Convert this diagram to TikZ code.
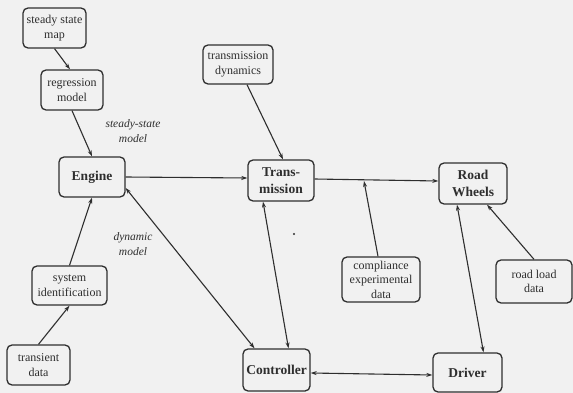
\documentclass[tikz,border=0pt]{standalone}
\usepackage{fontspec}
\setmainfont{Liberation Serif}
\usetikzlibrary{calc,arrows.meta}
\definecolor{ink}{HTML}{2E2E2E}
\definecolor{bg}{HTML}{F1F1F1}
\tikzset{
  box/.style={draw=ink, line width=1.3pt, rounded corners=5pt, align=center, inner sep=1pt,
    text=ink, font=\fontsize{12}{14.5}\selectfont},
  bigbox/.style={box, font=\bfseries\fontsize{13.5}{17}\selectfont},
  conn/.style={draw=ink, line width=1.1pt, -{Stealth[length=6pt,width=4pt]}},
  bconn/.style={draw=ink, line width=1.1pt, {Stealth[length=6pt,width=4pt]}-{Stealth[length=6pt,width=4pt]}},
  lab/.style={text=ink, font=\itshape\fontsize{11.5}{15}\selectfont, align=center}
}
\begin{document}
\begin{tikzpicture}[x=1pt,y=-1pt]
\fill[bg] (0,0) rectangle (573,393);
\useasboundingbox (0,0) rectangle (573,393);

\node[box, minimum width=63pt, minimum height=40pt] (ssm) at (54.5,28) {steady state\\map};
\node[box, minimum width=62pt, minimum height=40pt] (reg) at (72,90) {regression\\model};
\node[bigbox, minimum width=66pt, minimum height=40pt] (eng) at (92,177) {Engine};
\node[box, minimum width=70pt, minimum height=39pt] (td) at (238,64.5) {transmission\\dynamics};
\node[bigbox, minimum width=66pt, minimum height=41pt] (tr) at (281,180.5) {Trans-\\mission};
\node[bigbox, minimum width=68pt, minimum height=41pt] (rw) at (473,183.5) {Road\\Wheels};
\node[box, minimum width=76pt, minimum height=43pt] (rld) at (534,281.5) {road load\\data};
\node[box, minimum width=75pt, minimum height=39pt] (sid) at (69.5,285.5) {system\\identification};
\node[box, minimum width=63pt, minimum height=40pt] (tdat) at (38.5,365) {transient\\data};
\node[box, minimum width=78pt, minimum height=45pt] (cmp) at (381,279.5) {compliance\\experimental\\data};
\node[bigbox, minimum width=67pt, minimum height=42pt] (ctl) at (276.5,370) {Controller};
\node[bigbox, minimum width=69pt, minimum height=39pt] (drv) at (467.5,372.5) {Driver};

\node[lab] (l1) at (133,131) {steady-state\\model};
\node[lab] (l2) at (133,244) {dynamic\\model};
\fill[ink] (294,234) circle (1.2pt);

\coordinate (j) at (364,181);

\draw[conn] (ssm.south) -- ($(reg.north)+(-2,0)$);
\draw[conn] (reg.south) -- (eng.north);
\draw[conn] (tdat.north) -- (sid.south);
\draw[conn] (sid.north) -- (eng.south);
\draw[bconn] ($(eng.east)+(0,11)$) -- ($(ctl.north)+(-22,0)$);
\draw[conn] (eng.east) -- ($(tr.west)+(0,-2.5)$);
\draw[conn] ($(td.south)+(9,0)$) -- ($(tr.north)+(2,0)$);
\draw[conn] ($(tr.east)+(0,-1.5)$) -- ($(rw.west)+(0,-2.5)$);
\draw[conn] ($(cmp.north)+(-3,0)$) -- (j);
\draw[bconn] ($(tr.south)+(-18,0)$) -- ($(ctl.north)+(12,0)$);
\draw[bconn] ($(rw.south)+(-16,0)$) -- ($(drv.north)+(16,0)$);
\draw[conn] (rld.north) -- ($(rw.south)+(14,0)$);
\draw[bconn] ($(ctl.east)+(0,3)$) -- ($(drv.west)+(0,2.5)$);
\end{tikzpicture}
\end{document}
